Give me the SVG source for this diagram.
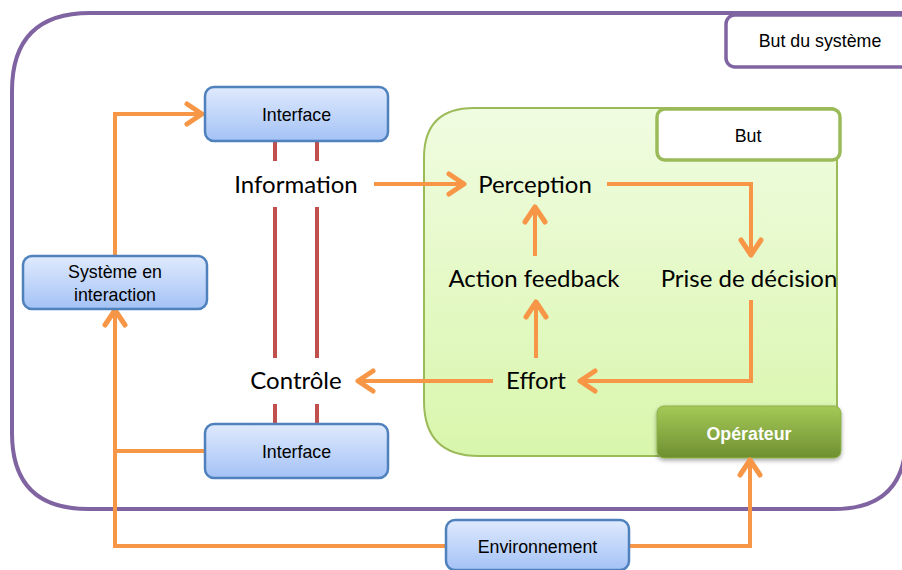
<svg xmlns="http://www.w3.org/2000/svg" width="902" height="570" viewBox="0 0 902 570">
<defs>
<linearGradient id="gBlue" x1="0" y1="0" x2="0" y2="1"><stop offset="0" stop-color="#dfeafd"/><stop offset="1" stop-color="#a4c2f6"/></linearGradient>
<linearGradient id="gGreen" x1="0" y1="0" x2="0" y2="1"><stop offset="0" stop-color="#f0fce1"/><stop offset="1" stop-color="#d9f6ac"/></linearGradient>
<linearGradient id="gOp" x1="0" y1="0" x2="0" y2="1"><stop offset="0" stop-color="#a5c957"/><stop offset="1" stop-color="#6f8f31"/></linearGradient>
<filter id="sh" x="-10%" y="-20%" width="130%" height="160%"><feDropShadow dx="0" dy="2" stdDeviation="2" flood-color="#000" flood-opacity="0.35"/></filter>
<marker id="arr" markerUnits="userSpaceOnUse" markerWidth="30" markerHeight="30" viewBox="-16 -12 20 24" refX="0" refY="0" orient="auto">
<path d="M-12,-8 L0,0 L-12,8" fill="none" stroke="#f79646" stroke-width="4" stroke-linecap="round" stroke-linejoin="round"/>
</marker>
<style>
.sm{font-family:"Liberation Sans",Arial,sans-serif;font-size:17.8px;fill:#000;text-anchor:middle}
.lg{font-family:Lato,"Open Sans",sans-serif;font-size:24px;fill:#000;text-anchor:middle}
.blue{fill:url(#gBlue);stroke:#4f81bd;stroke-width:2.5}
.con{fill:none;stroke:#f79646;stroke-width:4}
.red{stroke:#c0504d;stroke-width:4}
</style>
</defs>
<g id="systeme-global">
<path d="M90,13 L912,13 L906,437 Q906,509 834,509 L88,509 Q12,509 12,433 L12,91 Q12,13 90,13 Z" fill="#fff" stroke="#8064a2" stroke-width="4"/>
</g>
<g id="but-systeme">
<rect x="726" y="15" width="190" height="52" rx="9" fill="#fff" stroke="#8064a2" stroke-width="3.5"/>
<text class="sm" x="820" y="47">But du système</text>
</g>
<g id="operateur-zone">
<path d="M474,108 L831,108 Q837,108 837,114 L837,450 Q837,456 831,456 L479,456 Q424,456 424,401 L424,158 Q424,108 474,108 Z" fill="url(#gGreen)" stroke="#9bbb59" stroke-width="2"/>
</g>
<g id="but">
<rect x="657" y="109" width="183" height="51" rx="8" fill="#fff" stroke="#9bbb59" stroke-width="3.5"/>
<text class="sm" x="748" y="142">But</text>
</g>
<g id="operateur">
<rect x="657" y="406" width="184" height="52" rx="7" fill="url(#gOp)" stroke="#8cb04a" stroke-width="1" filter="url(#sh)"/>
<text class="sm" x="749" y="440" style="fill:#fff;font-weight:bold">Opérateur</text>
</g>
<g id="connectors">
<line class="red" x1="275" y1="141" x2="275" y2="161"/>
<line class="red" x1="317" y1="141" x2="317" y2="161"/>
<line class="red" x1="275" y1="207" x2="275" y2="358"/>
<line class="red" x1="317" y1="207" x2="317" y2="358"/>
<line class="red" x1="275" y1="404" x2="275" y2="424"/>
<line class="red" x1="317" y1="404" x2="317" y2="424"/>
<polyline class="con" points="115,256 115,114 202,114" marker-end="url(#arr)"/>
<polyline class="con" points="374,184 464,184" marker-end="url(#arr)"/>
<polyline class="con" points="607,184 751,184 751,255" marker-end="url(#arr)"/>
<polyline class="con" points="535,256 535,207" marker-end="url(#arr)"/>
<polyline class="con" points="536,358 536,302" marker-end="url(#arr)"/>
<polyline class="con" points="751,300 751,381 580,381" marker-end="url(#arr)"/>
<polyline class="con" points="493,381 358,381" marker-end="url(#arr)"/>
<polyline class="con" points="205,451 115,451"/>
<polyline class="con" points="446,546 115,546 115,310" marker-end="url(#arr)"/>
<polyline class="con" points="629,546 750,546 750,460" marker-end="url(#arr)"/>
</g>
<g id="interface-haut">
<rect class="blue" x="205" y="87" width="183" height="54" rx="9"/>
<text class="sm" x="296.5" y="121">Interface</text>
</g>
<g id="interface-bas">
<rect class="blue" x="205" y="424" width="183" height="54" rx="9"/>
<text class="sm" x="296.5" y="458">Interface</text>
</g>
<g id="systeme-interaction">
<rect class="blue" x="23" y="256" width="184" height="53" rx="9"/>
<text class="sm" x="115" y="278">Système en</text>
<text class="sm" x="115" y="301">interaction</text>
</g>
<g id="environnement">
<rect class="blue" x="446" y="520" width="183" height="50" rx="9"/>
<text class="sm" x="537.5" y="553">Environnement</text>
</g>
<g id="information"><text class="lg" x="296" y="193">Information</text></g>
<g id="perception"><text class="lg" x="535" y="193">Perception</text></g>
<g id="action-feedback"><text class="lg" x="534" y="287">Action feedback</text></g>
<g id="prise-decision"><text class="lg" x="749" y="287">Prise de décision</text></g>
<g id="controle"><text class="lg" x="296" y="389">Contrôle</text></g>
<g id="effort"><text class="lg" x="536" y="389">Effort</text></g>
</svg>
